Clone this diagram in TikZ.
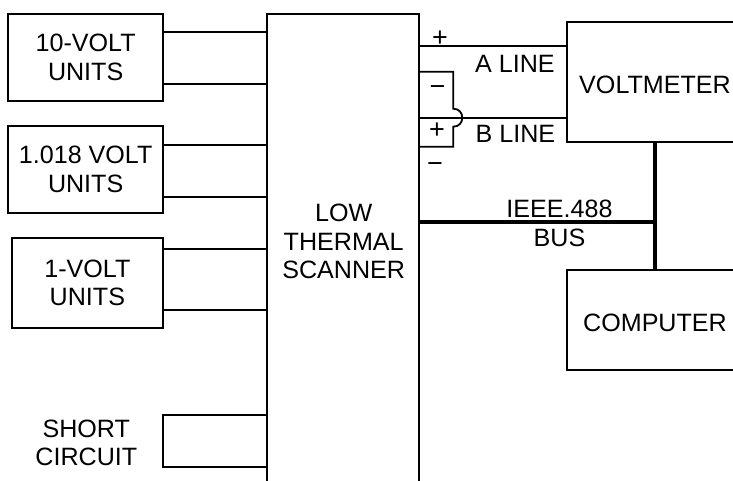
\documentclass[tikz,border=0pt]{standalone}
\usepackage{fontspec}
\setmainfont{Liberation Sans}
\begin{document}
\begin{tikzpicture}[x=1pt,y=-1pt,line width=1.8pt,
  lbl/.style={font=\fontsize{25.1}{28.7}\selectfont,align=center,inner sep=0pt},
  sign/.style={font=\fontsize{27}{30}\selectfont,inner sep=0pt,anchor=base},
  unitbox/.style={draw,line width=1.8pt,inner sep=0pt,font=\fontsize{25.1}{28.7}\selectfont,align=center},
  hidden/.style={inner sep=0pt,outer sep=0pt},
  bus/.style={line width=4.2pt}]
\useasboundingbox (0,0) rectangle (733,481);

% source boxes
\node[unitbox,minimum width=154.7pt,minimum height=86.7pt] (ten) at (85.65,57.35) {10-VOLT\\UNITS};
\node[unitbox,minimum width=154.7pt,minimum height=87pt] (ref) at (85.65,169.5) {1.018 VOLT\\UNITS};
\node[unitbox,minimum width=151.3pt,minimum height=89.4pt] (one) at (87.35,283) {1-VOLT\\UNITS};
\node[lbl] (short) at (86.3,442.8) {SHORT\\CIRCUIT};

% scanner (open at bottom)
\node[hidden,minimum width=152.6pt,minimum height=467pt] (scan) at (343,247.5) {};
\draw (scan.south west) -- (scan.north west) -- (scan.north east) -- (scan.south east);
\node[lbl] (scanlbl) at (343.7,241.5) {LOW\\THERMAL\\SCANNER};

% wires from sources
\draw (ten.east |- 0,31.7) -- (scan.west |- 0,31.7);
\draw (ten.east |- 0,84) -- (scan.west |- 0,84);
\draw (ref.east |- 0,145) -- (scan.west |- 0,145);
\draw (ref.east |- 0,197) -- (scan.west |- 0,197);
\draw (one.east |- 0,249.3) -- (scan.west |- 0,249.3);
\draw (one.east |- 0,310) -- (scan.west |- 0,310);
\coordinate (s1) at (162.7,415);
\coordinate (s2) at (162.7,467.3);
\draw (scan.west |- s1) -- (s1) -- (s2) -- (scan.west |- s2);

% voltmeter and computer (open at right)
\node[hidden,minimum width=170pt,minimum height=120.6pt] (vm) at (652.3,82) {};
\draw (vm.north east) -- (vm.north west) -- (vm.south west) -- (vm.south east);
\node[lbl] (vmlbl) at (655,85) {VOLTMETER};
\node[hidden,minimum width=170pt,minimum height=100pt] (comp) at (652.3,320) {};
\draw (comp.north east) -- (comp.north west) -- (comp.south west) -- (comp.south east);
\node[lbl] (complbl) at (655,323.3) {COMPUTER};

% A and B lines
\draw (scan.east |- 0,45.7) -- (vm.west |- 0,45.7);
\draw (scan.east |- 0,117.7) -- (vm.west |- 0,117.7);
\node[lbl] (alab) at (515,64.2) {A LINE};
\node[lbl] (blab) at (515.5,134.3) {B LINE};
\coordinate (k1) at (453.3,71.7);
\coordinate (k2) at (453.3,146.7);
\draw (scan.east |- k1) -- (k1) -- (453.3,108.7)
  .. controls (465.3,108.7) and (465.3,126.7) .. (453.3,126.7) -- (k2) -- (scan.east |- k2);
\node[sign] (p1) at (440,46.5) {+};
\node[sign] (m1) at (437.5,95.5) {−};
\node[sign] (p2) at (437,138.5) {+};
\node[sign] (m2) at (435,172.5) {−};

% IEEE bus
\coordinate (bj) at (655,222.3);
\draw[bus] (scan.east |- bj) -- (bj);
\draw[bus] (vm.south -| bj) -- (comp.north -| bj);
\node[lbl] (buslbl) at (559.5,223.7) {IEEE.488\\BUS};
\end{tikzpicture}
\end{document}
